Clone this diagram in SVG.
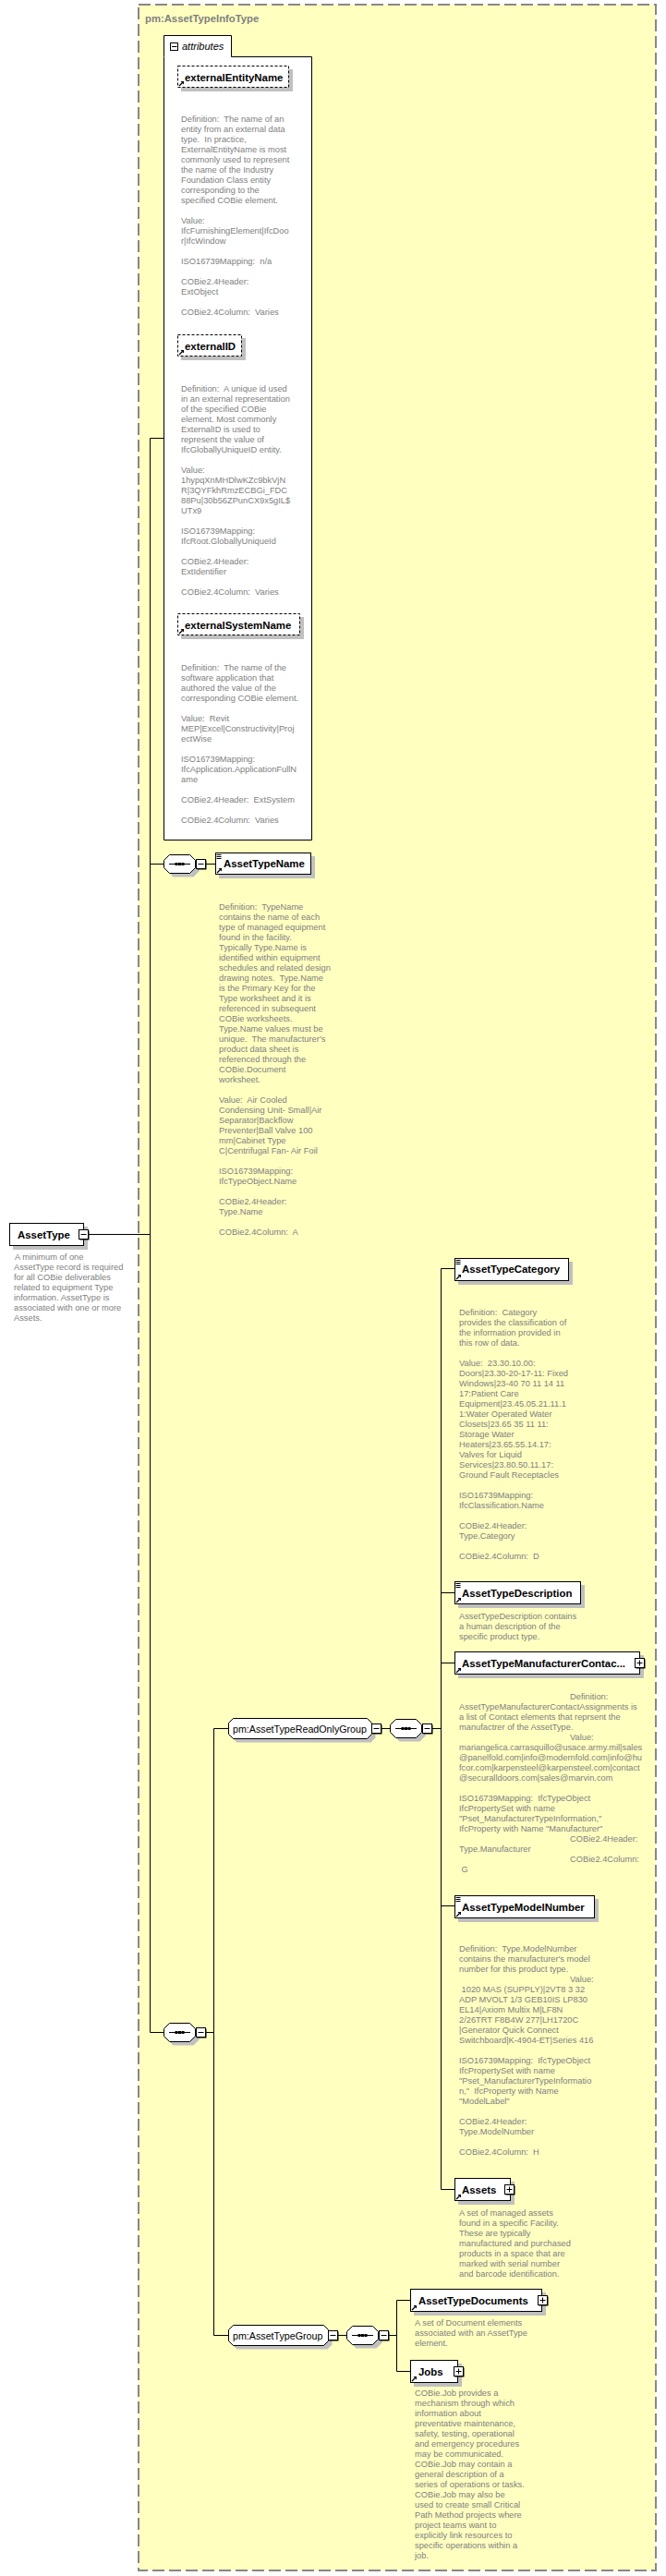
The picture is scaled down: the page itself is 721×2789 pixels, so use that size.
<svg xmlns="http://www.w3.org/2000/svg" width="721" height="2789" viewBox="0 0 721 2789">
<style>
.d{font-family:"Liberation Sans",Arial,sans-serif;font-size:9.3px;fill:#808080}
.n{font-family:"Liberation Sans",Arial,sans-serif;font-size:11.4px;font-weight:bold;fill:#000}
.g{font-family:"Liberation Sans",Arial,sans-serif;font-size:10.7px;fill:#000}
.t{font-family:"Liberation Sans",Arial,sans-serif;font-size:11.3px;font-weight:bold;fill:#808080}
.box{fill:#fff;stroke:#000;stroke-width:1}
.abox{fill:#fff;stroke:#000;stroke-width:1;stroke-dasharray:3,2}
.sh{fill:#c0c0c0}
.ln{stroke:#000;stroke-width:1;fill:none}
</style>
<defs>
<g id="ref"><path d="M2 -2L5.5 -5.5" stroke="#000" stroke-width="1.3"/><path d="M3.5 -7H7V-3.5Z" fill="#000"/></g>
<g id="simple"><path d="M1.5 2.5H6.5M1.5 4.5H6.5M1.5 6.5H6.5" stroke="#000" stroke-width="1"/></g>
<g id="minus"><rect x="1.5" y="1.5" width="10" height="10" fill="#000"/><rect x="0.5" y="0.5" width="10" height="10" fill="#fff" stroke="#000"/><path d="M2.5 5.5H8.5" stroke="#000"/></g>
<g id="plus"><rect x="1.5" y="1.5" width="10" height="10" fill="#000"/><rect x="0.5" y="0.5" width="10" height="10" fill="#fff" stroke="#000"/><path d="M2.5 5.5H8.5M5.5 2.5V8.5" stroke="#000"/></g>
<g id="seq"><path class="sh" d="M10.5 4.5H32.5L38.5 10.5V18.5L32.5 24.5H10.5L4.5 18.5V10.5Z"/><path fill="#fff" stroke="#000" d="M6.5 0.5H28.5L34.5 6.5V14.5L28.5 20.5H6.5L0.5 14.5V6.5Z"/><path d="M6 10.5H29" stroke="#000"/><rect x="12.5" y="9" width="3" height="3" fill="#000"/><rect x="16" y="9" width="3" height="3" fill="#000"/><rect x="19.5" y="9" width="3" height="3" fill="#000"/></g>
</defs>

<rect id="complexType" x="150" y="5" width="560" height="2778" fill="#FFFFC0" stroke="#888" stroke-width="2" stroke-dasharray="13,5"/>
<text class="t" x="157" y="24">pm:AssetTypeInfoType</text>

<g id="connectors" class="ln">
<path d="M96 1336.5H162.5"/>
<path d="M162.5 474.5V2200.5"/>
<path d="M162.5 474.5H177.5"/>
<path d="M162.5 935.5H177"/>
<path d="M223 935.5H233.5"/>
<path d="M162.5 2200.5H177"/>
<path d="M223 2200.5H231.5"/>
<path d="M231.5 1871.5V2528.5"/>
<path d="M231.5 1871.5H247.5"/>
<path d="M231.5 2528.5H247.5"/>
<path d="M413 1871.5H422"/>
<path d="M468 1871.5H477.5"/>
<path d="M477.5 1373.5V2370.5"/>
<path d="M477.5 1373.5H492.5"/>
<path d="M477.5 1724.5H492.5"/>
<path d="M477.5 1800.5H492.5"/>
<path d="M477.5 2063.5H492.5"/>
<path d="M477.5 2370.5H492.5"/>
<path d="M366 2528.5H375"/>
<path d="M421 2528.5H429.5"/>
<path d="M429.5 2490.5V2567.5"/>
<path d="M429.5 2490.5H444.5"/>
<path d="M429.5 2567.5H444.5"/>
</g>

<g id="AssetType">
<rect class="sh" x="14" y="1328" width="81" height="25"/>
<rect class="box" x="10.5" y="1324.5" width="80" height="24"/>
<text class="n" x="19" y="1341">AssetType</text>
<use href="#minus" x="85" y="1331"/>
<text class="d" x="15"><tspan x="16" y="1364">A minimum of one</tspan><tspan x="15" y="1375">AssetType record is required</tspan><tspan x="15" y="1386">for all COBie deliverables</tspan><tspan x="15" y="1397">related to equipment Type</tspan><tspan x="15" y="1408">information. AssetType is</tspan><tspan x="15" y="1419">associated with one or more</tspan><tspan x="15" y="1430">Assets.</tspan></text>
</g>

<g id="attributes">
<path d="M177.5 61.5V38.5H250.5V61.5H337.5V909.5H177.5Z" fill="#fff" stroke="#000"/>
<rect x="184.5" y="46.5" width="8" height="8" fill="#fff" stroke="#000"/>
<path d="M186 50.5H191.5" stroke="#000"/>
<text x="197" y="54" font-family="Liberation Sans, Arial, sans-serif" font-size="11" font-style="italic" fill="#000">attributes</text>
</g>

<g id="externalEntityName">
<rect class="sh" x="196" y="75" width="121" height="24"/>
<rect class="abox" x="192.5" y="71.5" width="120" height="23"/>
<text class="n" x="200" y="88">externalEntityName</text>
<use href="#ref" x="192" y="95"/>
<text class="d" xml:space="preserve"><tspan x="196" y="132">Definition:  The name of an</tspan><tspan x="196" y="143">entity from an external data</tspan><tspan x="196" y="154">type.  In practice,</tspan><tspan x="196" y="165">ExternalEntityName is most</tspan><tspan x="196" y="176">commonly used to represent</tspan><tspan x="196" y="187">the name of the Industry</tspan><tspan x="196" y="198">Foundation Class entity</tspan><tspan x="196" y="209">corresponding to the</tspan><tspan x="196" y="220">specified COBie element.</tspan><tspan x="196" y="242">Value:</tspan><tspan x="196" y="253">IfcFurnishingElement|IfcDoo</tspan><tspan x="196" y="264">r|IfcWindow</tspan><tspan x="196" y="286">ISO16739Mapping:  n/a</tspan><tspan x="196" y="308">COBie2.4Header:</tspan><tspan x="196" y="319">ExtObject</tspan><tspan x="196" y="341">COBie2.4Column:  Varies</tspan></text>
</g>

<g id="externalID">
<rect class="sh" x="196" y="366" width="70" height="24"/>
<rect class="abox" x="192.5" y="362.5" width="69" height="23"/>
<text class="n" x="200" y="379">externalID</text>
<use href="#ref" x="192" y="386"/>
<text class="d" xml:space="preserve"><tspan x="196" y="424">Definition:  A unique id used</tspan><tspan x="196" y="435">in an external representation</tspan><tspan x="196" y="446">of the specified COBie</tspan><tspan x="196" y="457">element. Most commonly</tspan><tspan x="196" y="468">ExternalID is used to</tspan><tspan x="196" y="479">represent the value of</tspan><tspan x="196" y="490">IfcGloballyUniqueID entity.</tspan><tspan x="196" y="512">Value:</tspan><tspan x="196" y="523">1hypqXnMHDlwKZc9bkVjN</tspan><tspan x="196" y="534">R|3QYFkhRmzECBGi_FDC</tspan><tspan x="196" y="545">88Pu|30b56ZPunCX9x5gIL$</tspan><tspan x="196" y="556">UTx9</tspan><tspan x="196" y="578">ISO16739Mapping:</tspan><tspan x="196" y="589">IfcRoot.GloballyUniqueId</tspan><tspan x="196" y="611">COBie2.4Header:</tspan><tspan x="196" y="622">ExtIdentifier</tspan><tspan x="196" y="644">COBie2.4Column:  Varies</tspan></text>
</g>

<g id="externalSystemName">
<rect class="sh" x="196" y="668" width="133" height="24"/>
<rect class="abox" x="192.5" y="664.5" width="132" height="23"/>
<text class="n" x="200" y="681">externalSystemName</text>
<use href="#ref" x="192" y="688"/>
<text class="d" xml:space="preserve"><tspan x="196" y="726">Definition:  The name of the</tspan><tspan x="196" y="737">software application that</tspan><tspan x="196" y="748">authored the value of the</tspan><tspan x="196" y="759">corresponding COBie element.</tspan><tspan x="196" y="781">Value:  Revit</tspan><tspan x="196" y="792">MEP|Excel|Constructivity|Proj</tspan><tspan x="196" y="803">ectWise</tspan><tspan x="196" y="825">ISO16739Mapping:</tspan><tspan x="196" y="836">IfcApplication.ApplicationFullN</tspan><tspan x="196" y="847">ame</tspan><tspan x="196" y="869">COBie2.4Header:  ExtSystem</tspan><tspan x="196" y="891">COBie2.4Column:  Varies</tspan></text>
</g>

<g id="sequence1">
<use href="#seq" x="177" y="925"/>
<use href="#minus" x="212" y="930"/>
</g>

<g id="AssetTypeName">
<rect class="sh" x="237" y="927" width="104" height="24"/>
<rect class="box" x="233.5" y="923.5" width="103" height="23"/>
<use href="#simple" x="233" y="923"/>
<text class="n" x="242" y="939">AssetTypeName</text>
<use href="#ref" x="233" y="947"/>
<text class="d" xml:space="preserve"><tspan x="237" y="985">Definition:  TypeName</tspan><tspan x="237" y="996">contains the name of each</tspan><tspan x="237" y="1007">type of managed equipment</tspan><tspan x="237" y="1018">found in the facility.</tspan><tspan x="237" y="1029">Typically Type.Name is</tspan><tspan x="237" y="1040">identified within equipment</tspan><tspan x="237" y="1051">schedules and related design</tspan><tspan x="237" y="1062">drawing notes.  Type.Name</tspan><tspan x="237" y="1073">is the Primary Key for the</tspan><tspan x="237" y="1084">Type worksheet and it is</tspan><tspan x="237" y="1095">referenced in subsequent</tspan><tspan x="237" y="1106">COBie worksheets.</tspan><tspan x="237" y="1117">Type.Name values must be</tspan><tspan x="237" y="1128">unique.  The manufacturer's</tspan><tspan x="237" y="1139">product data sheet is</tspan><tspan x="237" y="1150">referenced through the</tspan><tspan x="237" y="1161">COBie.Document</tspan><tspan x="237" y="1172">worksheet.</tspan><tspan x="237" y="1194">Value:  Air Cooled</tspan><tspan x="237" y="1205">Condensing Unit- Small|Air</tspan><tspan x="237" y="1216">Separator|Backflow</tspan><tspan x="237" y="1227">Preventer|Ball Valve 100</tspan><tspan x="237" y="1238">mm|Cabinet Type</tspan><tspan x="237" y="1249">C|Centrifugal Fan- Air Foil</tspan><tspan x="237" y="1271">ISO16739Mapping:</tspan><tspan x="237" y="1282">IfcTypeObject.Name</tspan><tspan x="237" y="1304">COBie2.4Header:</tspan><tspan x="237" y="1315">Type.Name</tspan><tspan x="237" y="1337">COBie2.4Column:  A</tspan></text>
</g>

<g id="sequence2">
<use href="#seq" x="177" y="2190"/>
<use href="#minus" x="212" y="2195"/>
</g>

<g id="AssetTypeReadOnlyGroup">
<path class="sh" d="M256.5 1864.5H401.5L406.5 1869.5V1881.5L401.5 1886.5H256.5L251.5 1881.5V1869.5Z"/>
<path fill="#fff" stroke="#000" d="M252.5 1860.5H397.5L402.5 1865.5V1877.5L397.5 1882.5H252.5L247.5 1877.5V1865.5Z"/>
<text class="g" x="252" y="1875.5">pm:AssetTypeReadOnlyGroup</text>
<use href="#minus" x="402" y="1866"/>
</g>

<g id="sequence3">
<use href="#seq" x="422" y="1861"/>
<use href="#minus" x="457" y="1866"/>
</g>

<g id="AssetTypeCategory">
<rect class="sh" x="496" y="1366" width="124" height="25"/>
<rect class="box" x="492.5" y="1362.5" width="123" height="24"/>
<use href="#simple" x="492" y="1362"/>
<text class="n" x="500" y="1378">AssetTypeCategory</text>
<use href="#ref" x="492" y="1387"/>
<text class="d" xml:space="preserve"><tspan x="497" y="1424">Definition:  Category</tspan><tspan x="497" y="1435">provides the classification of</tspan><tspan x="497" y="1446">the information provided in</tspan><tspan x="497" y="1457">this row of data.</tspan><tspan x="497" y="1479">Value:  23.30.10.00:</tspan><tspan x="497" y="1490">Doors|23.30-20-17-11: Fixed</tspan><tspan x="497" y="1501">Windows|23-40 70 11 14 11</tspan><tspan x="497" y="1512">17:Patient Care</tspan><tspan x="497" y="1523">Equipment|23.45.05.21.11.1</tspan><tspan x="497" y="1534">1:Water Operated Water</tspan><tspan x="497" y="1545">Closets|23.65 35 11 11:</tspan><tspan x="497" y="1556">Storage Water</tspan><tspan x="497" y="1567">Heaters|23.65.55.14.17:</tspan><tspan x="497" y="1578">Valves for Liquid</tspan><tspan x="497" y="1589">Services|23.80.50.11.17:</tspan><tspan x="497" y="1600">Ground Fault Receptacles</tspan><tspan x="497" y="1622">ISO16739Mapping:</tspan><tspan x="497" y="1633">IfcClassification.Name</tspan><tspan x="497" y="1655">COBie2.4Header:</tspan><tspan x="497" y="1666">Type.Category</tspan><tspan x="497" y="1688">COBie2.4Column:  D</tspan></text>
</g>

<g id="AssetTypeDescription">
<rect class="sh" x="496" y="1716" width="137" height="25"/>
<rect class="box" x="492.5" y="1712.5" width="136" height="24"/>
<use href="#simple" x="492" y="1712"/>
<text class="n" x="500" y="1729">AssetTypeDescription</text>
<use href="#ref" x="492" y="1737"/>
<text class="d" xml:space="preserve"><tspan x="497" y="1753">AssetTypeDescription contains</tspan><tspan x="497" y="1764">a human description of the</tspan><tspan x="497" y="1775">specific product type.</tspan></text>
</g>

<g id="AssetTypeManufacturerContactAssignments">
<rect class="sh" x="496" y="1792" width="201" height="25"/>
<rect class="box" x="492.5" y="1788.5" width="200" height="24"/>
<text class="n" x="500" y="1805">AssetTypeManufacturerContac...</text>
<use href="#plus" x="687" y="1795"/>
<use href="#ref" x="492" y="1813"/>
<text class="d" xml:space="preserve"><tspan x="617" y="1840">Definition:</tspan><tspan x="497" y="1851">AssetTypeManufacturerContactAssignments is</tspan><tspan x="497" y="1862">a list of Contact elements that reprsent the</tspan><tspan x="497" y="1873">manufactrer of the AssetType.</tspan><tspan x="617" y="1884">Value:</tspan><tspan x="497" y="1895">mariangelica.carrasquillo@usace.army.mil|sales</tspan><tspan x="497" y="1906">@panelfold.com|info@modernfold.com|info@hu</tspan><tspan x="497" y="1917">fcor.com|karpensteel@karpensteel.com|contact</tspan><tspan x="497" y="1928">@securalldoors.com|sales@marvin.com</tspan><tspan x="497" y="1950">ISO16739Mapping:  IfcTypeObject</tspan><tspan x="497" y="1961">IfcPropertySet with name</tspan><tspan x="497" y="1972">"Pset_ManufacturerTypeInformation,"</tspan><tspan x="497" y="1983">IfcProperty with Name "Manufacturer"</tspan><tspan x="617" y="1994">COBie2.4Header:</tspan><tspan x="497" y="2005">Type.Manufacturer</tspan><tspan x="617" y="2016">COBie2.4Column:</tspan><tspan x="497" y="2027"> G</tspan></text>
</g>

<g id="AssetTypeModelNumber">
<rect class="sh" x="496" y="2056" width="152" height="25"/>
<rect class="box" x="492.5" y="2052.5" width="151" height="24"/>
<use href="#simple" x="492" y="2052"/>
<text class="n" x="500" y="2069">AssetTypeModelNumber</text>
<use href="#ref" x="492" y="2077"/>
<text class="d" xml:space="preserve"><tspan x="497" y="2113">Definition:  Type.ModelNumber</tspan><tspan x="497" y="2124">contains the manufacturer's model</tspan><tspan x="497" y="2135">number for this product type.</tspan><tspan x="617" y="2146">Value:</tspan><tspan x="497" y="2157"> 1020 MAS (SUPPLY)|2VT8 3 32</tspan><tspan x="497" y="2168">ADP MVOLT 1/3 GEB10IS LP830</tspan><tspan x="497" y="2179">EL14|Axiom Multix M|LF8N</tspan><tspan x="497" y="2190">2/26TRT F8B4W 277|LH1720C</tspan><tspan x="497" y="2201">|Generator Quick Connect</tspan><tspan x="497" y="2212">Switchboard|K-4904-ET|Series 416</tspan><tspan x="497" y="2234">ISO16739Mapping:  IfcTypeObject</tspan><tspan x="497" y="2245">IfcPropertySet with name</tspan><tspan x="497" y="2256">"Pset_ManufacturerTypeInformatio</tspan><tspan x="497" y="2267">n,"  IfcProperty with Name</tspan><tspan x="497" y="2278">"ModelLabel"</tspan><tspan x="497" y="2300">COBie2.4Header:</tspan><tspan x="497" y="2311">Type.ModelNumber</tspan><tspan x="497" y="2333">COBie2.4Column:  H</tspan></text>
</g>

<g id="Assets">
<rect class="sh" x="496" y="2362" width="61" height="25"/>
<rect class="box" x="492.5" y="2358.5" width="60" height="24"/>
<text class="n" x="500" y="2375">Assets</text>
<use href="#plus" x="546" y="2365"/>
<use href="#ref" x="492" y="2383"/>
<text class="d" xml:space="preserve"><tspan x="497" y="2399">A set of managed assets</tspan><tspan x="497" y="2410">found in a specific Facility.</tspan><tspan x="497" y="2421">These are typically</tspan><tspan x="497" y="2432">manufactured and purchased</tspan><tspan x="497" y="2443">products in a space that are</tspan><tspan x="497" y="2454">marked with serial number</tspan><tspan x="497" y="2465">and barcode identification.</tspan></text>
</g>

<g id="AssetTypeGroup">
<path class="sh" d="M256.5 2521.5H354.5L359.5 2526.5V2538.5L354.5 2543.5H256.5L251.5 2538.5V2526.5Z"/>
<path fill="#fff" stroke="#000" d="M252.5 2517.5H350.5L355.5 2522.5V2534.5L350.5 2539.5H252.5L247.5 2534.5V2522.5Z"/>
<text class="g" x="252" y="2532.5">pm:AssetTypeGroup</text>
<use href="#minus" x="355" y="2523"/>
</g>

<g id="sequence4">
<use href="#seq" x="375" y="2518"/>
<use href="#minus" x="410" y="2523"/>
</g>

<g id="AssetTypeDocuments">
<rect class="sh" x="448" y="2482" width="143" height="25"/>
<rect class="box" x="444.5" y="2478.5" width="142" height="24"/>
<text class="n" x="453" y="2495">AssetTypeDocuments</text>
<use href="#plus" x="582" y="2485"/>
<use href="#ref" x="444" y="2503"/>
<text class="d" xml:space="preserve"><tspan x="449" y="2518">A set of Document elements</tspan><tspan x="449" y="2529">associated with an AssetType</tspan><tspan x="449" y="2540">element.</tspan></text>
</g>

<g id="Jobs">
<rect class="sh" x="448" y="2559" width="52" height="25"/>
<rect class="box" x="444.5" y="2555.5" width="51" height="24"/>
<text class="n" x="453" y="2572">Jobs</text>
<use href="#plus" x="491" y="2562"/>
<use href="#ref" x="444" y="2580"/>
<text class="d" xml:space="preserve"><tspan x="449" y="2594">COBie.Job provides a</tspan><tspan x="449" y="2605">mechanism through which</tspan><tspan x="449" y="2616">information about</tspan><tspan x="449" y="2627">preventative maintenance,</tspan><tspan x="449" y="2638">safety, testing, operational</tspan><tspan x="449" y="2649">and emergency procedures</tspan><tspan x="449" y="2660">may be communicated.</tspan><tspan x="449" y="2671">COBie.Job may contain a</tspan><tspan x="449" y="2682">general description of a</tspan><tspan x="449" y="2693">series of operations or tasks.</tspan><tspan x="449" y="2704">COBie.Job may also be</tspan><tspan x="449" y="2715">used to create small Critical</tspan><tspan x="449" y="2726">Path Method projects where</tspan><tspan x="449" y="2737">project teams want to</tspan><tspan x="449" y="2748">explicitly link resources to</tspan><tspan x="449" y="2759">specific operations within a</tspan><tspan x="449" y="2770">job.</tspan></text>
</g>
</svg>
